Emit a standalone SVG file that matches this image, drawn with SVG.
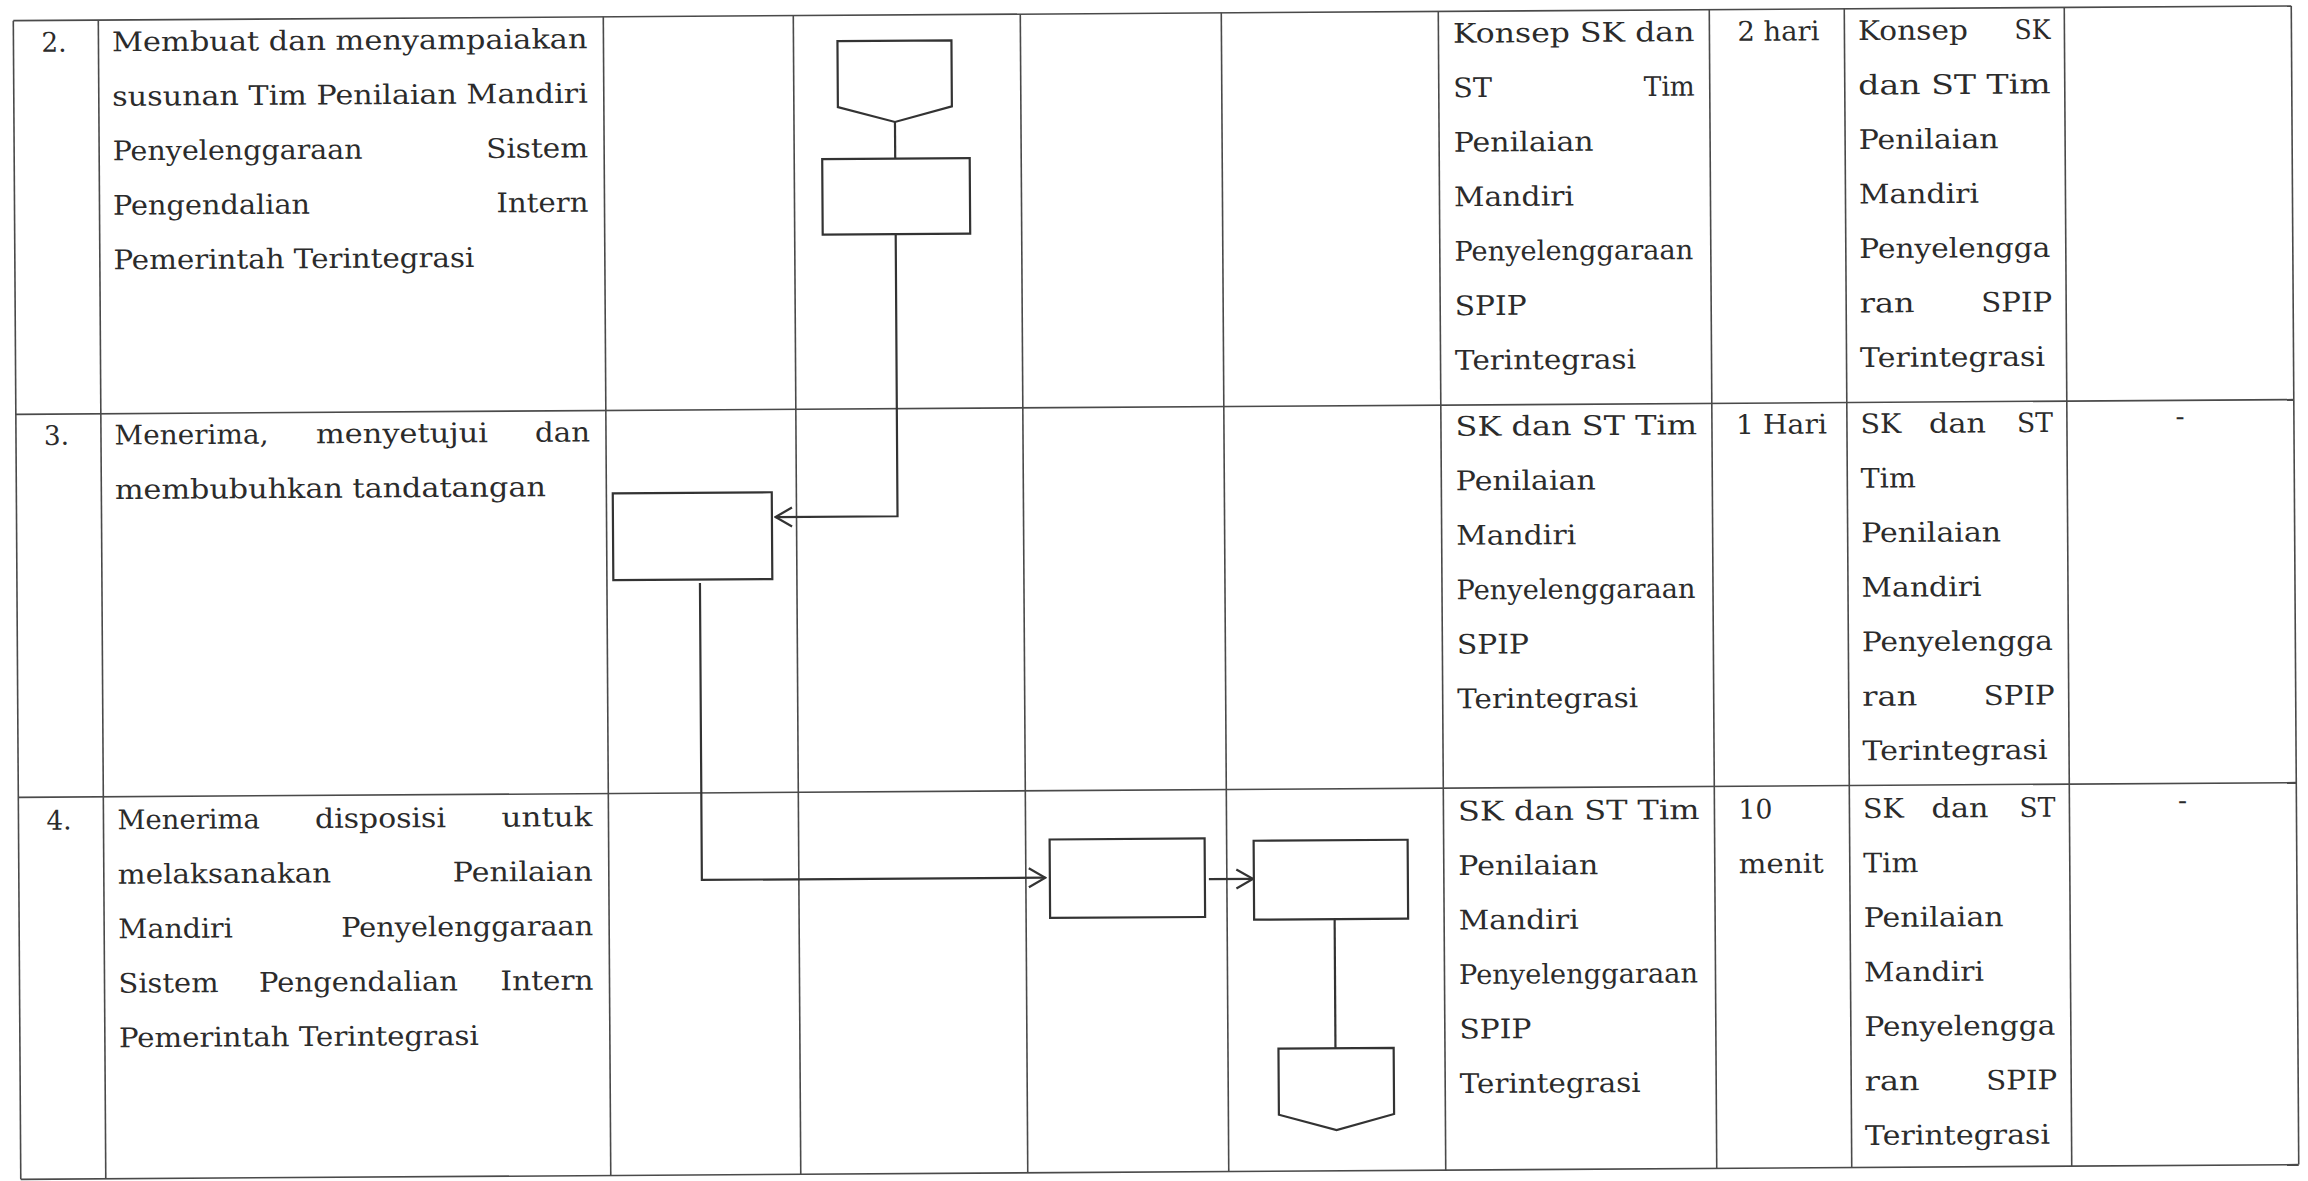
<svg xmlns="http://www.w3.org/2000/svg" width="2308" height="1181" viewBox="0 0 2308 1181">
<style>
.grid line { stroke: #4a4a4a; stroke-width: 1.6; }
.shape { fill: #ffffff; stroke: #333333; stroke-width: 2.2; }
.conn { fill: none; stroke: #333333; stroke-width: 2.2; }
.t { font-family: "DejaVu Serif", "Liberation Serif", serif; font-size: 27px; fill: #2b2b2b; }
.e { text-anchor: end; }
.m { text-anchor: middle; }
</style>
<defs>
<marker id="arr" markerUnits="userSpaceOnUse" viewBox="-19 -12 21 24" markerWidth="21" markerHeight="24" refX="0" refY="0" orient="auto">
<path d="M-16.5,-9.5 L0,0 L-16.5,9.5" fill="none" stroke="#333333" stroke-width="2.2"/>
</marker>
</defs>
<rect x="0" y="0" width="2308" height="1181" fill="#ffffff"/>
<g transform="rotate(-0.37 1154 590)">
<g id="table" class="grid">
<line x1="17" y1="13.3" x2="2295" y2="13.3"/>
<line x1="17" y1="407" x2="2295" y2="407"/>
<line x1="17" y1="790" x2="2295" y2="790"/>
<line x1="17" y1="1172" x2="2295" y2="1172"/>
<line x1="17" y1="13.3" x2="17" y2="1172"/>
<line x1="102" y1="13.3" x2="102" y2="1172"/>
<line x1="607" y1="13.3" x2="607" y2="1172"/>
<line x1="797" y1="13.3" x2="797" y2="1172"/>
<line x1="1024" y1="13.3" x2="1024" y2="1172"/>
<line x1="1225" y1="13.3" x2="1225" y2="1172"/>
<line x1="1442" y1="13.3" x2="1442" y2="1172"/>
<line x1="1713" y1="13.3" x2="1713" y2="1172"/>
<line x1="1848" y1="13.3" x2="1848" y2="1172"/>
<line x1="2068" y1="13.3" x2="2068" y2="1172"/>
<line x1="2295" y1="13.3" x2="2295" y2="1172"/>
</g>

<g id="connectors">
<path class="conn" d="M898,120.3 L898,157"/>
<path class="conn" d="M898,232.5 L898,514.6 L776,514.6" marker-end="url(#arr)"/>
<path class="conn" d="M700,580 L700,877 L1043.5,877" marker-end="url(#arr)"/>
<path class="conn" d="M1207,879.5 L1251,879.5" marker-end="url(#arr)"/>
<path class="conn" d="M1332.5,920.3 L1332.5,1049.5"/>
</g>

<g id="n-offpage-start">
<polygon class="shape" points="841,39 955,39 955,105 898,120.3 841,105"/>
</g>
<g id="n-proc-row2">
<rect class="shape" x="825" y="157" width="147.5" height="75.5"/>
</g>
<g id="n-proc-row3">
<rect class="shape" x="613.4" y="489.8" width="159" height="86.8"/>
</g>
<g id="n-proc-row4a">
<rect class="shape" x="1048" y="838.8" width="155" height="78.5"/>
</g>
<g id="n-proc-row4b">
<rect class="shape" x="1252" y="841.4" width="154" height="78.9"/>
</g>
<g id="n-offpage-end">
<polygon class="shape" points="1275.5,1049.5 1390.7,1049.5 1390.7,1115.5 1333.1,1131.2 1275.5,1115.5"/>
</g>

<g id="text-no">
<text class="t" x="45" y="44.6" textLength="25" lengthAdjust="spacingAndGlyphs">2.</text>
<text class="t" x="45" y="437.8" textLength="25" lengthAdjust="spacingAndGlyphs">3.</text>
<text class="t" x="45" y="822.5" textLength="25" lengthAdjust="spacingAndGlyphs">4.</text>
</g>

<g id="text-kegiatan">
<text class="t" x="115.5" y="44.6" textLength="475.5" lengthAdjust="spacingAndGlyphs">Membuat dan menyampaiakan</text>
<text class="t" x="115.5" y="99.1" textLength="475.5" lengthAdjust="spacingAndGlyphs">susunan Tim Penilaian Mandiri</text>
<text class="t" x="115.5" y="153.6" textLength="250" lengthAdjust="spacingAndGlyphs">Penyelenggaraan</text>
<text class="t" x="489" y="153.6" textLength="102" lengthAdjust="spacingAndGlyphs">Sistem</text>
<text class="t" x="115.5" y="208.1" textLength="197" lengthAdjust="spacingAndGlyphs">Pengendalian</text>
<text class="t" x="499" y="208.1" textLength="92" lengthAdjust="spacingAndGlyphs">Intern</text>
<text class="t" x="115.5" y="262.6" textLength="361" lengthAdjust="spacingAndGlyphs">Pemerintah Terintegrasi</text>

<text class="t" x="115.5" y="437.8" textLength="154" lengthAdjust="spacingAndGlyphs">Menerima,</text>
<text class="t" x="317" y="437.8" textLength="172" lengthAdjust="spacingAndGlyphs">menyetujui</text>
<text class="t" x="536" y="437.8" textLength="55" lengthAdjust="spacingAndGlyphs">dan</text>
<text class="t" x="115.5" y="492.3" textLength="431" lengthAdjust="spacingAndGlyphs">membubuhkan tandatangan</text>

<text class="t" x="116" y="822.5" textLength="142.4" lengthAdjust="spacingAndGlyphs">Menerima</text>
<text class="t" x="313.5" y="822.5" textLength="131" lengthAdjust="spacingAndGlyphs">disposisi</text>
<text class="t" x="500" y="822.5" textLength="91" lengthAdjust="spacingAndGlyphs">untuk</text>
<text class="t" x="116" y="877" textLength="213.4" lengthAdjust="spacingAndGlyphs">melaksanakan</text>
<text class="t" x="451" y="877" textLength="140" lengthAdjust="spacingAndGlyphs">Penilaian</text>
<text class="t" x="116" y="931.5" textLength="114.6" lengthAdjust="spacingAndGlyphs">Mandiri</text>
<text class="t" x="339" y="931.5" textLength="252" lengthAdjust="spacingAndGlyphs">Penyelenggaraan</text>
<text class="t" x="116" y="986" textLength="100" lengthAdjust="spacingAndGlyphs">Sistem</text>
<text class="t" x="256.5" y="986" textLength="199" lengthAdjust="spacingAndGlyphs">Pengendalian</text>
<text class="t" x="498" y="986" textLength="93" lengthAdjust="spacingAndGlyphs">Intern</text>
<text class="t" x="116" y="1040.5" textLength="360" lengthAdjust="spacingAndGlyphs">Pemerintah Terintegrasi</text>
</g>

<g id="text-output">
<text class="t" x="1456.5" y="44.6" textLength="241.5" lengthAdjust="spacingAndGlyphs">Konsep SK dan</text>
<text class="t" x="1456.5" y="99.1" textLength="38.7" lengthAdjust="spacingAndGlyphs">ST</text>
<text class="t" x="1647" y="99.1" textLength="51" lengthAdjust="spacingAndGlyphs">Tim</text>
<text class="t" x="1456.5" y="153.6" textLength="140" lengthAdjust="spacingAndGlyphs">Penilaian</text>
<text class="t" x="1456.5" y="208.1" textLength="120" lengthAdjust="spacingAndGlyphs">Mandiri</text>
<text class="t" x="1456.5" y="262.6" textLength="239" lengthAdjust="spacingAndGlyphs">Penyelenggaraan</text>
<text class="t" x="1456.5" y="317.1" textLength="72" lengthAdjust="spacingAndGlyphs">SPIP</text>
<text class="t" x="1456.5" y="371.6" textLength="181" lengthAdjust="spacingAndGlyphs">Terintegrasi</text>

<text class="t" x="1456.5" y="437.8" textLength="241.5" lengthAdjust="spacingAndGlyphs">SK dan ST Tim</text>
<text class="t" x="1456.5" y="492.3" textLength="140" lengthAdjust="spacingAndGlyphs">Penilaian</text>
<text class="t" x="1456.5" y="546.8" textLength="120" lengthAdjust="spacingAndGlyphs">Mandiri</text>
<text class="t" x="1456.5" y="601.3" textLength="239" lengthAdjust="spacingAndGlyphs">Penyelenggaraan</text>
<text class="t" x="1456.5" y="655.8" textLength="72" lengthAdjust="spacingAndGlyphs">SPIP</text>
<text class="t" x="1456.5" y="710.3" textLength="181" lengthAdjust="spacingAndGlyphs">Terintegrasi</text>

<text class="t" x="1456.5" y="822.5" textLength="241.5" lengthAdjust="spacingAndGlyphs">SK dan ST Tim</text>
<text class="t" x="1456.5" y="877" textLength="140" lengthAdjust="spacingAndGlyphs">Penilaian</text>
<text class="t" x="1456.5" y="931.5" textLength="120" lengthAdjust="spacingAndGlyphs">Mandiri</text>
<text class="t" x="1456.5" y="986" textLength="239" lengthAdjust="spacingAndGlyphs">Penyelenggaraan</text>
<text class="t" x="1456.5" y="1040.5" textLength="72" lengthAdjust="spacingAndGlyphs">SPIP</text>
<text class="t" x="1456.5" y="1095" textLength="181" lengthAdjust="spacingAndGlyphs">Terintegrasi</text>
</g>

<g id="text-waktu">
<text class="t" x="1741" y="44.6" textLength="82" lengthAdjust="spacingAndGlyphs">2 hari</text>
<text class="t" x="1737" y="437.8" textLength="91" lengthAdjust="spacingAndGlyphs">1 Hari</text>
<text class="t" x="1737" y="822.5" textLength="34" lengthAdjust="spacingAndGlyphs">10</text>
<text class="t" x="1737" y="877" textLength="85" lengthAdjust="spacingAndGlyphs">menit</text>
</g>

<g id="text-output2">
<text class="t" x="1861.5" y="44.6" textLength="110" lengthAdjust="spacingAndGlyphs">Konsep</text>
<text class="t" x="2018" y="44.6" textLength="36" lengthAdjust="spacingAndGlyphs">SK</text>
<text class="t" x="1861.5" y="99.1" textLength="192.5" lengthAdjust="spacingAndGlyphs">dan ST Tim</text>
<text class="t" x="1861.5" y="153.6" textLength="140" lengthAdjust="spacingAndGlyphs">Penilaian</text>
<text class="t" x="1861.5" y="208.1" textLength="120" lengthAdjust="spacingAndGlyphs">Mandiri</text>
<text class="t" x="1861.5" y="262.6" textLength="191" lengthAdjust="spacingAndGlyphs">Penyelengga</text>
<text class="t" x="1861.5" y="317.1" textLength="55" lengthAdjust="spacingAndGlyphs">ran</text>
<text class="t" x="1983" y="317.1" textLength="71" lengthAdjust="spacingAndGlyphs">SPIP</text>
<text class="t" x="1861.5" y="371.6" textLength="185" lengthAdjust="spacingAndGlyphs">Terintegrasi</text>

<text class="t" x="1861.5" y="437.8" textLength="41" lengthAdjust="spacingAndGlyphs">SK</text>
<text class="t" x="1930" y="437.8" textLength="57" lengthAdjust="spacingAndGlyphs">dan</text>
<text class="t" x="2018" y="437.8" textLength="36" lengthAdjust="spacingAndGlyphs">ST</text>
<text class="t" x="1861.5" y="492.3" textLength="55" lengthAdjust="spacingAndGlyphs">Tim</text>
<text class="t" x="1861.5" y="546.8" textLength="140" lengthAdjust="spacingAndGlyphs">Penilaian</text>
<text class="t" x="1861.5" y="601.3" textLength="120" lengthAdjust="spacingAndGlyphs">Mandiri</text>
<text class="t" x="1861.5" y="655.8" textLength="191" lengthAdjust="spacingAndGlyphs">Penyelengga</text>
<text class="t" x="1861.5" y="710.3" textLength="55" lengthAdjust="spacingAndGlyphs">ran</text>
<text class="t" x="1983" y="710.3" textLength="71" lengthAdjust="spacingAndGlyphs">SPIP</text>
<text class="t" x="1861.5" y="764.8" textLength="185" lengthAdjust="spacingAndGlyphs">Terintegrasi</text>

<text class="t" x="1861.5" y="822.5" textLength="41" lengthAdjust="spacingAndGlyphs">SK</text>
<text class="t" x="1930" y="822.5" textLength="57" lengthAdjust="spacingAndGlyphs">dan</text>
<text class="t" x="2018" y="822.5" textLength="36" lengthAdjust="spacingAndGlyphs">ST</text>
<text class="t" x="1861.5" y="877" textLength="55" lengthAdjust="spacingAndGlyphs">Tim</text>
<text class="t" x="1861.5" y="931.5" textLength="140" lengthAdjust="spacingAndGlyphs">Penilaian</text>
<text class="t" x="1861.5" y="986" textLength="120" lengthAdjust="spacingAndGlyphs">Mandiri</text>
<text class="t" x="1861.5" y="1040.5" textLength="191" lengthAdjust="spacingAndGlyphs">Penyelengga</text>
<text class="t" x="1861.5" y="1095" textLength="55" lengthAdjust="spacingAndGlyphs">ran</text>
<text class="t" x="1983" y="1095" textLength="71" lengthAdjust="spacingAndGlyphs">SPIP</text>
<text class="t" x="1861.5" y="1149.5" textLength="185" lengthAdjust="spacingAndGlyphs">Terintegrasi</text>
</g>

<g id="text-ket">
<text class="t m" x="2181" y="432">-</text>
<text class="t m" x="2181" y="816">-</text>
</g>
</g>
</svg>
